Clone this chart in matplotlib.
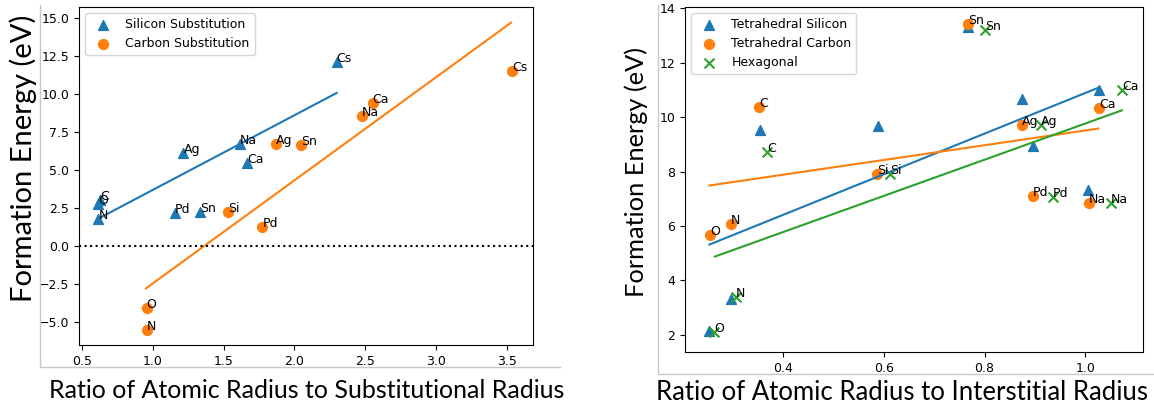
import matplotlib
matplotlib.use('Agg')
import matplotlib.pyplot as plt
from matplotlib.lines import Line2D

# substitutional defects (left panel)
si_sub_names = ['O', 'C', 'N', 'Pd', 'Sn', 'Ag', 'Na', 'Ca', 'Cs']
si_sub_ratio = [0.617, 0.627, 0.617, 1.158, 1.334, 1.217, 1.616, 1.668, 2.298]
si_sub_energy = [2.75, 3.05, 1.80, 2.15, 2.21, 6.09, 6.70, 5.43, 12.11]

c_sub_names = ['O', 'N', 'Si', 'Pd', 'Ag', 'Sn', 'Na', 'Ca', 'Cs']
c_sub_ratio = [0.958, 0.958, 1.530, 1.774, 1.868, 2.044, 2.475, 2.552, 3.533]
c_sub_energy = [-4.09, -5.52, 2.25, 1.23, 6.68, 6.62, 8.56, 9.38, 11.52]

si_sub_fit_x = [0.617, 2.298]
si_sub_fit_y = [1.80, 10.05]
c_sub_fit_x = [0.953, 3.528]
c_sub_fit_y = [-2.78, 14.67]

# interstitial defects (right panel)
tet_si_names = ['O', 'N', 'C', 'Si', 'Sn', 'Ag', 'Pd', 'Na', 'Ca']
tet_si_ratio = [0.253, 0.295, 0.354, 0.588, 0.768, 0.874, 0.896, 1.005, 1.028]
tet_si_energy = [2.14, 3.33, 9.51, 9.66, 13.32, 10.68, 8.94, 7.33, 11.00]

tet_c_names = ['O', 'N', 'C', 'Si', 'Sn', 'Ag', 'Pd', 'Na', 'Ca']
tet_c_ratio = [0.254, 0.296, 0.352, 0.587, 0.768, 0.874, 0.896, 1.007, 1.028]
tet_c_energy = [5.66, 6.06, 10.39, 7.92, 13.41, 9.70, 7.12, 6.84, 10.35]

hex_names = ['O', 'N', 'C', 'Si', 'Sn', 'Ag', 'Pd', 'Na', 'Ca']
hex_ratio = [0.262, 0.306, 0.368, 0.612, 0.801, 0.912, 0.936, 1.051, 1.074]
hex_energy = [2.12, 3.41, 8.72, 7.90, 13.21, 9.70, 7.06, 6.84, 10.98]

tet_si_fit_x = [0.253, 1.026]
tet_si_fit_y = [5.32, 11.08]
tet_c_fit_x = [0.253, 1.026]
tet_c_fit_y = [7.49, 9.58]
hex_fit_x = [0.264, 1.073]
hex_fit_y = [4.88, 10.25]

plt.rcParams['font.size'] = 9

fig = plt.figure(figsize=(11.54, 4.05), dpi=100)
ax1 = fig.add_axes([0.0685, 0.148, 0.3937, 0.835])
ax2 = fig.add_axes([0.5936, 0.131, 0.3969, 0.8526])

# left panel
ax1.scatter(si_sub_ratio, si_sub_energy, marker='^', s=50, color='C0',
            label='Silicon Substitution')
ax1.scatter(c_sub_ratio, c_sub_energy, marker='o', s=50, color='C1',
            label='Carbon Substitution')
ax1.plot(si_sub_fit_x, si_sub_fit_y, color='C0', lw=1.5)
ax1.plot(c_sub_fit_x, c_sub_fit_y, color='C1', lw=1.5)
ax1.axhline(0, color='k', linestyle=':', lw=1.5)
for n, x, y in zip(si_sub_names, si_sub_ratio, si_sub_energy):
    ax1.text(x, y, n)
for n, x, y in zip(c_sub_names, c_sub_ratio, c_sub_energy):
    ax1.text(x, y, n)
ax1.set_xlim(0.481, 3.685)
ax1.set_ylim(-6.5, 15.7)
ax1.set_xticks([0.5, 1.0, 1.5, 2.0, 2.5, 3.0, 3.5])
ax1.set_yticks([-5.0, -2.5, 0.0, 2.5, 5.0, 7.5, 10.0, 12.5, 15.0])
ax1.legend(loc='upper left')

# right panel
ax2.scatter(tet_si_ratio, tet_si_energy, marker='^', s=50, color='C0',
            label='Tetrahedral Silicon')
ax2.scatter(tet_c_ratio, tet_c_energy, marker='o', s=50, color='C1',
            label='Tetrahedral Carbon')
ax2.scatter(hex_ratio, hex_energy, marker='x', s=50, color='C2',
            label='Hexagonal')
ax2.plot(tet_si_fit_x, tet_si_fit_y, color='C0', lw=1.5)
ax2.plot(tet_c_fit_x, tet_c_fit_y, color='C1', lw=1.5)
ax2.plot(hex_fit_x, hex_fit_y, color='C2', lw=1.5)
for n, x, y in zip(tet_c_names, tet_c_ratio, tet_c_energy):
    ax2.text(x, y, n)
for n, x, y in zip(hex_names, hex_ratio, hex_energy):
    ax2.text(x, y, n)
ax2.set_xlim(0.2045, 1.115)
ax2.set_ylim(1.375, 14.06)
ax2.set_xticks([0.4, 0.6, 0.8, 1.0])
ax2.set_yticks([2, 4, 6, 8, 10, 12, 14])
ax2.legend(loc='upper left')

# picture frames of the pasted plots
for xs, ys in [([40, 40, 560], [5, 367, 367]),
               ([658, 658, 1154], [5, 374, 374])]:
    fig.add_artist(Line2D([x / 1154 for x in xs], [1 - y / 405 for y in ys],
                          color='#c8c8c8', lw=1))

big = dict(family=['Lato', 'DejaVu Sans'], color='k')
fig.text(307 / 1154, 1 - 398 / 405, 'Ratio of Atomic Radius to Substitutional Radius',
         ha='center', va='baseline', fontsize=18, **big)
fig.text(902 / 1154, 1 - 400 / 405, 'Ratio of Atomic Radius to Interstitial Radius',
         ha='center', va='baseline', fontsize=18.5, **big)
fig.text(23 / 1154, 1 - 158 / 405, 'Formation Energy (eV)', rotation=90,
         ha='center', va='center', fontsize=21, **big)
fig.text(636 / 1154, 1 - 172 / 405, 'Formation Energy (eV)', rotation=90,
         ha='center', va='center', fontsize=18.3, **big)

fig.savefig('out.png', dpi=100)
